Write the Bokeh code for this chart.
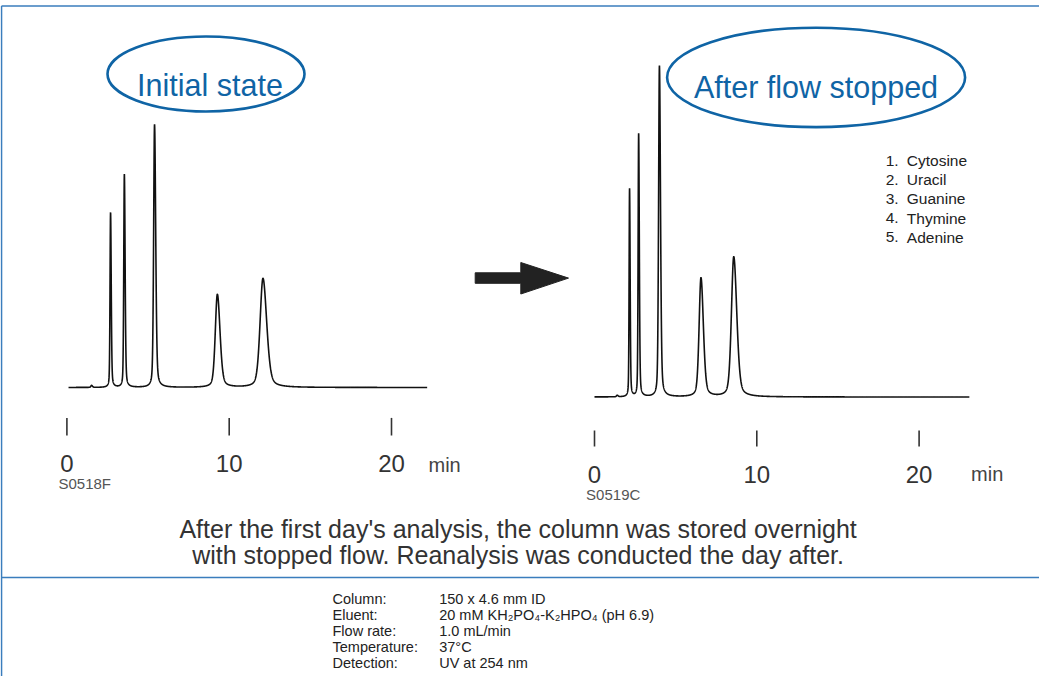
import numpy as np
from bokeh.plotting import figure
from bokeh.models import Range1d
from bokeh.core.properties import value
from bokeh.embed import file_html
from bokeh.resources import INLINE

# ---------------- data ----------------
compounds = ["Cytosine", "Uracil", "Guanine", "Thymine", "Adenine"]
peak_numbers = ["1.", "2.", "3.", "4.", "5."]

# Initial state (retention time in min, peak height in a.u., peak FWHM in min)
initial_rt = [2.69, 3.54, 5.40, 9.27, 12.08]
initial_height = [175, 213, 263, 93, 109]
initial_fwhm = [0.075, 0.085, 0.13, 0.30, 0.42]
initial_run = [0.1, 22.2]
initial_system_peak = [1.52, 2.0, 0.10]

# After flow stopped
stopped_rt = [2.16, 2.72, 4.00, 6.56, 8.58]
stopped_height = [208, 263, 331, 119, 140]
stopped_fwhm = [0.065, 0.075, 0.12, 0.27, 0.34]
stopped_run = [0.0, 23.1]
stopped_system_peak = [1.40, 1.5, 0.10]

tick_values = [0, 10, 20]
tick_labels = ["0", "10", "20"]
axis_unit = "min"
chart_ids = ["S0518F", "S0519C"]
chart_titles = ["Initial state", "After flow stopped"]

caption_lines = ["After the first day's analysis, the column was stored overnight",
                 "with stopped flow. Reanalysis was conducted the day after."]
cond_labels = ["Column:", "Eluent:", "Flow rate:", "Temperature:", "Detection:"]
cond_values = ["150 x 4.6 mm ID", "20 mM KH\u2082PO\u2084-K\u2082HPO\u2084 (pH 6.9)",
               "1.0 mL/min", "37\u00b0C", "UV at 254 nm"]

# ---------------- helpers ----------------
def trace(rt, height, fwhm, run, extra):
    t = np.arange(run[0], run[1], 0.004)
    y = np.zeros_like(t)
    for r, h, f in zip(rt + [extra[0]], height + [extra[1]], fwhm + [extra[2]]):
        fl = np.where(t < r, f, f * 1.3)  # slight tailing
        u = (t - r) / fl
        g = np.exp(-4 * np.log(2) * u ** 2)
        lz = 1.0 / (1.0 + 4 * u ** 2)
        y += h * (0.65 * g + 0.35 * lz)
    return t, y

# ---------------- figure (page pixel frame) ----------------
W, H = 1039, 676
X0, Y0 = 8, 8
p = figure(width=W, height=H, x_range=Range1d(X0, X0 + W), y_range=Range1d(Y0 + H, Y0),
           output_backend="svg", toolbar_location=None, min_border=0,
           x_axis_location=None, y_axis_location=None)
p.grid.visible = False
p.outline_line_color = None
p.background_fill_color = "white"

FONT = value("Liberation Sans")
BLUE = "#0f64a5"
FRAME = "#3a7dbd"

# chart calibrations: (pixel of t=0, px per min, baseline pixel)
cal = {"L": (74.4, 16.23, 395.0), "R": (602.0, 16.23, 404.5)}
for k, (ox, ppm, base) in cal.items():
    p.extra_x_ranges["t" + k] = Range1d((X0 - ox) / ppm, (X0 + W - ox) / ppm)
    p.extra_y_ranges["y" + k] = Range1d(base - (Y0 + H), base - Y0)

# frame lines
p.segment(x0=[9, 9, 9], y0=[13.5, 13.5, 585], x1=[X0 + W, 9, X0 + W], y1=[13.5, Y0 + H, 585],
          line_color=FRAME, line_width=1.6)

# chromatograms
specs = [("L", initial_rt, initial_height, initial_fwhm, initial_run, initial_system_peak),
         ("R", stopped_rt, stopped_height, stopped_fwhm, stopped_run, stopped_system_peak)]
for k, rt, hh, ff, run, ex in specs:
    t, y = trace(rt, hh, ff, run, ex)
    p.line(t, y, x_range_name="t" + k, y_range_name="y" + k, line_color="#111111", line_width=1.6)

# time axes (ticks + labels)
axis_geom = {"L": (425.4, 443.0, 471.0, 436.0, 472.0, 66.0, 491.0),
             "R": (438.0, 454.0, 481.5, 978.6, 481.0, 593.6, 501.5)}
for i, k in enumerate(["L", "R"]):
    ty0, ty1, lab_y, min_x, min_y, id_x, id_y = axis_geom[k]
    p.segment(x0=tick_values, y0=[ty0] * 3, x1=tick_values, y1=[ty1] * 3,
              x_range_name="t" + k, line_color="#333333", line_width=1.6)
    p.text(x=tick_values, y=[lab_y] * 3, text=tick_labels, x_range_name="t" + k,
           text_align="center", text_baseline="alphabetic", text_font=FONT,
           text_font_size="24px", text_color="#333333")
    p.text(x=[min_x], y=[min_y], text=[axis_unit], text_align="left", text_baseline="alphabetic",
           text_font=FONT, text_font_size="20px", text_color="#444444")
    p.text(x=[id_x], y=[id_y], text=[chart_ids[i]], text_align="left", text_baseline="alphabetic",
           text_font=FONT, text_font_size="15px", text_color="#555555")

# titles in ellipses
p.ellipse(x=[213.5, 823.6], y=[81.5, 84.9], width=[197, 298], height=[75, 99.4],
          fill_color=None, line_color=BLUE, line_width=2.6)
p.text(x=[217.5, 823.5], y=[92.0, 94.7], text=chart_titles, text_align="center",
       text_baseline="alphabetic", text_font=FONT, text_font_size="30.5px", text_color=BLUE)

# peak legend
leg_y = [168.0 + 19.2 * i for i in range(len(compounds))]
p.text(x=[893.2] * 5, y=leg_y, text=peak_numbers, text_align="left", text_baseline="alphabetic",
       text_font=FONT, text_font_size="15.5px", text_color="#222222")
p.text(x=[914.3] * 5, y=leg_y, text=compounds, text_align="left", text_baseline="alphabetic",
       text_font=FONT, text_font_size="15.5px", text_color="#222222")

# arrow
p.patch(x=[482.7, 528.3, 528.3, 576.0, 528.3, 528.3, 482.7],
        y=[280.3, 280.3, 270.0, 285.6, 301.5, 290.8, 290.8],
        fill_color="#222222", line_color="#222222", line_width=1)

# caption
p.text(x=[525.6, 525.6], y=[536.7, 562.5], text=caption_lines, text_align="center",
       text_baseline="alphabetic", text_font=FONT, text_font_size="25px", text_color="#333333")

# conditions
cond_y = [606.7, 622.7, 638.3, 654.0, 670.0]
p.text(x=[340.0] * 5, y=cond_y, text=cond_labels, text_align="left", text_baseline="middle",
       text_font=FONT, text_font_size="14.5px", text_color="#222222")
p.text(x=[446.7] * 5, y=cond_y, text=cond_values, text_align="left", text_baseline="middle",
       text_font=FONT, text_font_size="14.5px", text_color="#222222")

open("out.html", "w").write(file_html(p, INLINE))
